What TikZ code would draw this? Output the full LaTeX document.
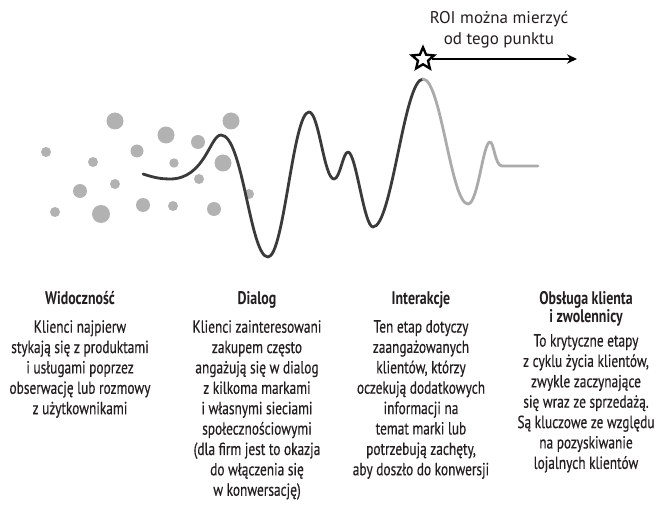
\documentclass[tikz,border=0pt]{standalone}
\usepackage{fontspec}
\setmainfont{PT Sans}[FakeStretch=0.76,UprightFeatures={FakeBold=0.4}]
\newfontfamily\roifont{PT Sans}
\usetikzlibrary{arrows.meta,positioning,shapes.geometric}
\definecolor{inkgray}{HTML}{231F20}
\definecolor{dotgray}{HTML}{B2B2B2}
\definecolor{wavedark}{HTML}{3A3A3A}
\definecolor{wavelight}{HTML}{ABABAB}

\begin{document}
\begin{tikzpicture}[
 x=0.03cm,y=-0.03cm,
 font=\fontsize{15}{17.4}\selectfont,
 stagetitle/.style={font=\fontsize{15.6}{15.6}\selectfont\bfseries,text=inkgray,align=center,inner sep=0pt},
 stagetext/.style={text=inkgray,align=center,inner sep=0pt,anchor=north},
 dot/.style={fill=dotgray},
 wave/.style={line width=2.4pt,line cap=round,line join=round},
 arr/.style={-{Stealth[length=3mm,width=2.8mm]},line width=1.8pt,draw=black}
]
\useasboundingbox (0,0) rectangle (659,507);

\foreach \x/\y/\r in {115/121/8.5,46/152/5,93/162/5,137/151/6.5,166/135/8.5,174/163/4.7,
  198/142/7,231/121/8.5,223/163/8.5,199/179/5,80/191/7,115/184/5,55/212/5,101/214/9,
  143/205/7,173/206/5,214/209/7,249/194/5}
  \fill[dot] (\x,\y) circle (\r);

\draw[wave,wavedark] (143,174) .. controls (155,178) and (162,179) .. (170,179)
  .. controls (205,179) and (210,135) .. (221,135)
  .. controls (243,135) and (250,257) .. (268,257)
  .. controls (284,257) and (293,112) .. (309,112)
  .. controls (319,112) and (324,179) .. (334,179)
  .. controls (340,179) and (343,152) .. (348,152)
  .. controls (356,152) and (364,227) .. (373,227)
  .. controls (392,227) and (404,79) .. (423,79);
\draw[wave,wavelight] (423,79) .. controls (441,79) and (451,204) .. (468,204)
  .. controls (478,204) and (483,142) .. (490,142)
  .. controls (494,142) and (495,166) .. (502,166) -- (538,166);

\node[star,star points=5,star point ratio=2.2,draw=black,fill=white,line width=2pt,
  minimum size=7mm,inner sep=0pt] (roi) at (423,59) {};
\coordinate (roiend) at (577,59);
\draw[arr] (roi) -- (roiend);
\node[font=\roifont\fontsize{14.5}{18}\selectfont,text=inkgray,align=center,anchor=north,inner sep=0pt]
  (roitext) at (499,11) {ROI można mierzyć\\od tego punktu};

\node[stagetitle,anchor=base] (t1) at (80,305) {Widoczność};
\node[stagetext] (d1) at (80,320) {Klienci najpierw\\stykają się z produktami\\i usługami poprzez\\obserwację lub rozmowy\\z użytkownikami};

\node[stagetitle,anchor=base] (t2) at (257,305) {Dialog};
\node[stagetext] (d2) at (257,320) {Klienci zainteresowani\\zakupem często\\angażują się w dialog\\z kilkoma markami\\i własnymi sieciami\\społecznościowymi\\(dla firm jest to okazja\\do włączenia się\\w konwersację)};

\node[stagetitle,anchor=base] (t3) at (421,305) {Interakcje};
\node[stagetext] (d3) at (421,320) {Ten etap dotyczy\\zaangażowanych\\klientów, którzy\\oczekują dodatkowych\\informacji na\\temat marki lub\\potrzebują zachęty,\\aby doszło do konwersji};

\node[stagetitle,anchor=north] (t4) at (586,291) {Obsługa klienta\\i zwolennicy};
\node[stagetext] (d4) at (586,334) {To krytyczne etapy\\z cyklu życia klientów,\\zwykle zaczynające\\się wraz ze sprzedażą.\\Są kluczowe ze względu\\na pozyskiwanie\\lojalnych klientów};
\end{tikzpicture}
\end{document}
